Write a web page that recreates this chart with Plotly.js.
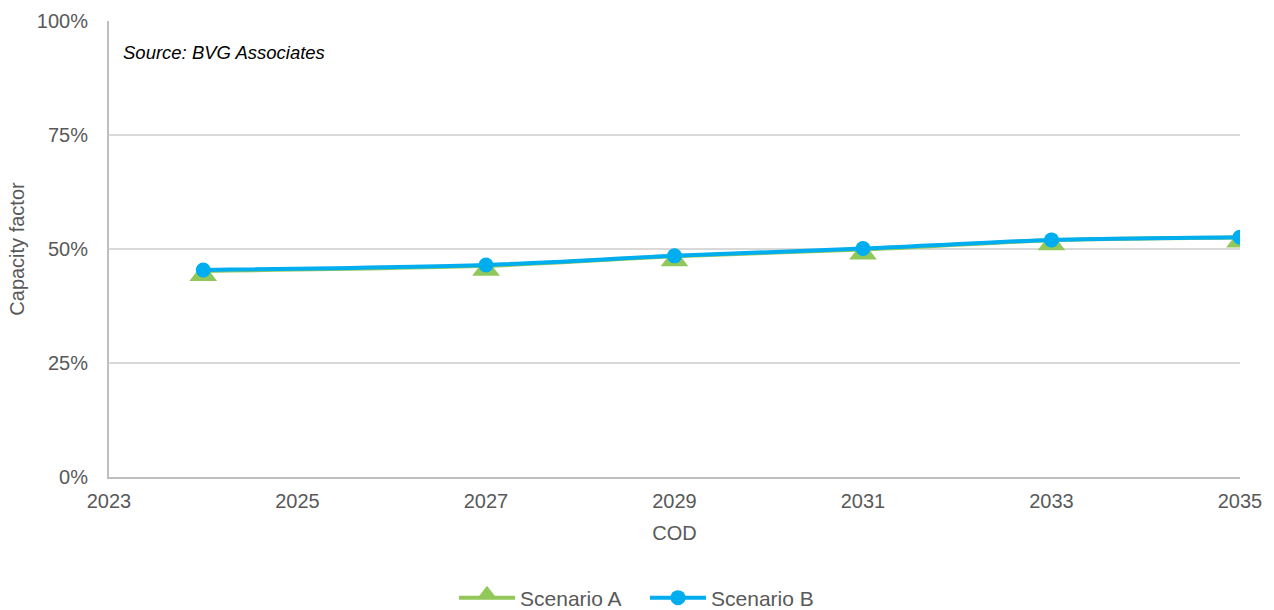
<!DOCTYPE html>
<html>
<head>
<meta charset="utf-8">
<script src="https://cdn.plot.ly/plotly-3.0.1.min.js"></script>
<style>html,body{margin:0;padding:0;background:#fff;}#chart{width:1274px;height:610px;}</style>
</head>
<body>
<div id="chart"></div>
<script>
const years = [2024, 2027, 2029, 2031, 2033, 2035];
const scenarioA = [45.2, 46.3, 48.4, 49.9, 51.9, 52.5];
const scenarioB = [45.4, 46.5, 48.5, 50.1, 52.0, 52.6];
const seriesNames = ["Scenario A", "Scenario B"];
const yTicks = [0, 25, 50, 75, 100];
const yTickText = ["0%", "25%", "50%", "75%", "100%"];
const xTicks = [2023, 2025, 2027, 2029, 2031, 2033, 2035];

const grey = "#595959";
const font = {family: "Liberation Sans, Arial, sans-serif", size: 20, color: grey};

const traces = [
  {
    x: years, y: scenarioA, name: seriesNames[0], type: "scatter", mode: "lines+markers",
    line: {color: "#92C85A", width: 4, shape: "spline", smoothing: 0.8},
    marker: {symbol: "triangle-up", size: 24, standoff: 4, color: "#92C85A"}
  },
  {
    x: years, y: scenarioB, name: seriesNames[1], type: "scatter", mode: "lines+markers",
    line: {color: "#00ADEE", width: 4, shape: "spline", smoothing: 0.8},
    marker: {symbol: "circle", size: 15, color: "#00ADEE"}
  }
];

const layout = {
  width: 1274, height: 610,
  paper_bgcolor: "#fff", plot_bgcolor: "#fff",
  font: font,
  showlegend: true,
  margin: {l: 109, r: 34, t: 21, b: 133, pad: 0},
  xaxis: {
    range: [2023, 2035], tickvals: xTicks, ticktext: xTicks.map(String),
    showgrid: false, zeroline: false, showline: true, linecolor: "#BFBFBF", linewidth: 2,
    ticks: "outside", ticklen: 5, tickcolor: "rgba(0,0,0,0)", tickfont: font,
    title: {text: "COD", font: font, standoff: 15}
  },
  yaxis: {
    range: [0, 100], tickvals: yTicks, ticktext: yTickText,
    showgrid: true, gridcolor: "#D9D9D9", gridwidth: 2, zeroline: false,
    showline: true, linecolor: "#BFBFBF", linewidth: 2,
    ticks: "outside", ticklen: 15, tickcolor: "rgba(0,0,0,0)", tickfont: font,
    title: {text: "Capacity factor", font: font, standoff: 7}
  },
  legend: {
    orientation: "h", xref: "container", yref: "container",
    x: 0.5063, xanchor: "center", y: 0.0197, yanchor: "middle",
    font: {family: "Liberation Sans, Arial, sans-serif", size: 21, color: grey},
    itemwidth: 56, entrywidth: 120, entrywidthmode: "pixels", traceorder: "normal"
  },
  annotations: [{
    xref: "paper", yref: "paper", x: 0.011, y: 0.930, xanchor: "left", yanchor: "middle",
    text: "<i>Source: BVG Associates</i>", showarrow: false,
    font: {family: "Liberation Sans, Arial, sans-serif", size: 18.5, color: "#000"}
  }]
};

Plotly.newPlot("chart", traces, layout, {displayModeBar: false, staticPlot: true});
</script>
</body>
</html>
